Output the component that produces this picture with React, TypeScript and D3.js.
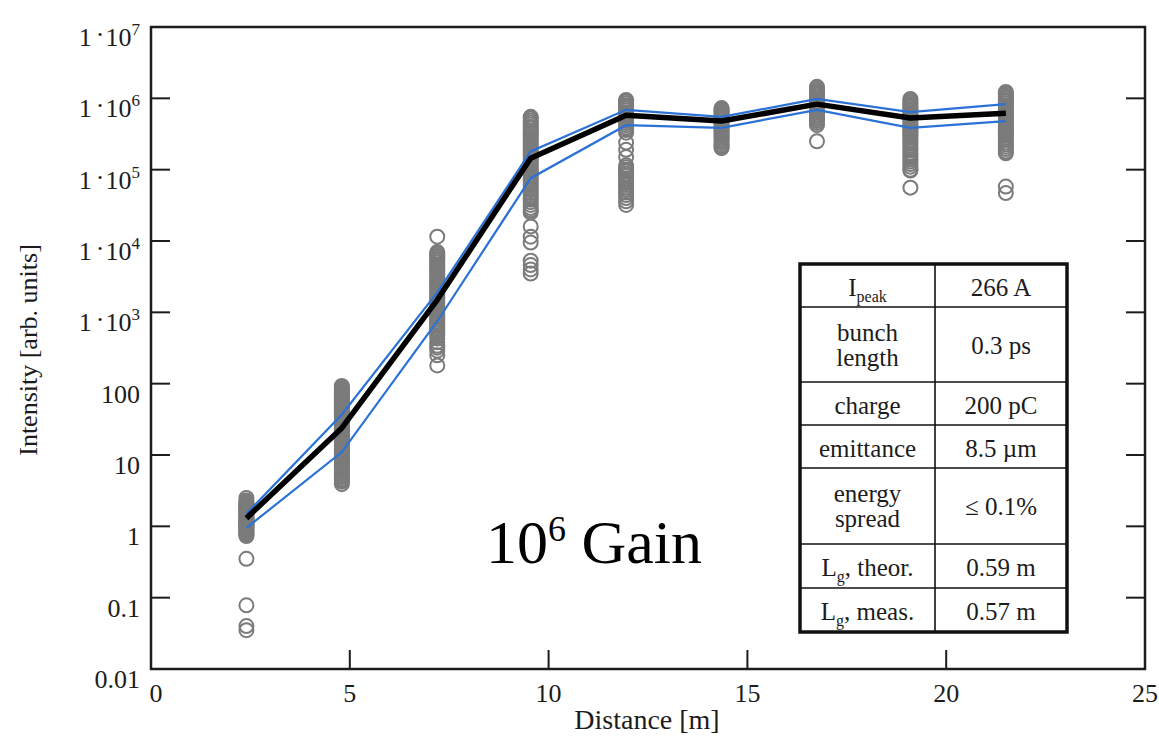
import React from "react";
import * as d3 from "d3";

// ---------- data ----------
const distances = [2.4, 4.8, 7.2, 9.55, 11.95, 14.35, 16.75, 19.1, 21.5];
const meanIntensity = [1.3, 24, 1500, 1.45e5, 5.8e5, 4.8e5, 8.3e5, 5.3e5, 6.2e5];
const upperIntensity = [1.5, 37, 1900, 1.8e5, 6.9e5, 5.5e5, 9.8e5, 6.4e5, 8.3e5];
const lowerIntensity = [0.95, 11, 750, 7.6e4, 4.2e5, 3.85e5, 6.9e5, 3.85e5, 4.8e5];

const shots1 = [2.5, 2.3, 2.2, 2.1, 2.0, 1.95, 1.9, 1.85, 1.8, 1.75, 1.7, 1.65, 1.6, 1.55, 1.5, 1.45, 1.4, 1.35, 1.3, 1.27, 1.23, 1.2, 1.16, 1.12, 1.08, 1.05, 1.02, 0.99, 0.96, 0.93, 0.9, 0.88, 0.85, 0.82, 0.8, 0.77, 0.75, 0.73, 0.35, 0.078, 0.04, 0.035];
const shots2 = [93, 90, 86, 82, 78, 75, 72, 69, 66, 63, 60, 57, 55, 52, 50, 48, 46, 44, 42, 40, 38, 36.5, 35, 33.5, 32, 30.5, 29, 28, 27, 25.5, 24.5, 23.5, 22.5, 21.5, 20.5, 19.5, 18.5, 17.5, 16.8, 16, 15.2, 14.5, 13.8, 13.2, 12.5, 12, 11.4, 10.9, 10.4, 9.9, 9.4, 9, 8.5, 8.1, 7.7, 7.3, 7, 6.6, 6.3, 6, 5.7, 5.4, 5.1, 4.9, 4.6, 4.4, 4.2, 3.9];
const shots3 = [11500, 7000, 6600, 6200, 5900, 5600, 5300, 5000, 4700, 4400, 4200, 3950, 3700, 3500, 3300, 3100, 2900, 2750, 2600, 2450, 2300, 2150, 2050, 1900, 1800, 1700, 1600, 1500, 1420, 1340, 1260, 1190, 1120, 1060, 1000, 940, 890, 840, 790, 740, 700, 660, 620, 580, 550, 510, 470, 430, 380, 340, 320, 290, 250, 180];
const shots4 = [5.5e5, 5.2e5, 4.9e5, 4.6e5, 4.3e5, 4.0e5, 3.8e5, 3.5e5, 3.3e5, 3.1e5, 2.9e5, 2.7e5, 2.5e5, 2.35e5, 2.2e5, 2.05e5, 1.9e5, 1.8e5, 1.7e5, 1.6e5, 1.5e5, 1.4e5, 1.3e5, 1.22e5, 1.15e5, 1.08e5, 1.0e5, 9.4e4, 8.8e4, 8.2e4, 7.6e4, 7.1e4, 6.6e4, 6.1e4, 5.6e4, 5.2e4, 4.8e4, 4.4e4, 4.1e4, 3.8e4, 3.5e4, 3.2e4, 2.9e4, 2.7e4, 2.5e4, 1.6e4, 1.15e4, 9.5e3, 5.3e3, 4.6e3, 4.0e3, 3.5e3];
const shots5 = [9.5e5, 9.0e5, 8.5e5, 8.0e5, 7.6e5, 7.2e5, 6.8e5, 6.4e5, 6.0e5, 5.7e5, 5.4e5, 5.1e5, 4.8e5, 4.5e5, 4.2e5, 3.9e5, 3.6e5, 3.3e5, 2.4e5, 1.9e5, 1.5e5, 1.15e5, 1.08e5, 1.0e5, 9.4e4, 8.8e4, 8.2e4, 7.6e4, 7.1e4, 6.6e4, 6.1e4, 5.6e4, 5.2e4, 4.8e4, 4.4e4, 4.0e4, 3.6e4, 3.2e4];
const shots6 = [7.3e5, 7.0e5, 6.7e5, 6.4e5, 6.1e5, 5.8e5, 5.5e5, 5.25e5, 5.0e5, 4.75e5, 4.5e5, 4.3e5, 4.1e5, 3.9e5, 3.7e5, 3.5e5, 3.3e5, 3.1e5, 2.95e5, 2.8e5, 2.65e5, 2.5e5, 2.35e5, 2.2e5, 2.1e5, 2.0e5];
const shots7 = [1.45e6, 1.38e6, 1.31e6, 1.24e6, 1.18e6, 1.12e6, 1.06e6, 1.0e6, 9.5e5, 9.0e5, 8.5e5, 8.0e5, 7.6e5, 7.2e5, 6.8e5, 6.4e5, 6.0e5, 5.7e5, 5.4e5, 5.1e5, 4.8e5, 4.5e5, 4.2e5, 2.5e5];
const shots8 = [9.8e5, 9.3e5, 8.8e5, 8.3e5, 7.9e5, 7.5e5, 7.1e5, 6.7e5, 6.3e5, 6.0e5, 5.7e5, 5.4e5, 5.1e5, 4.8e5, 4.5e5, 4.2e5, 4.0e5, 3.8e5, 3.6e5, 3.4e5, 3.2e5, 3.0e5, 2.8e5, 2.6e5, 2.45e5, 2.3e5, 2.15e5, 2.0e5, 1.85e5, 1.7e5, 1.6e5, 1.5e5, 1.4e5, 1.3e5, 1.2e5, 1.1e5, 1.0e5, 9.7e4, 5.6e4];
const shots9 = [1.23e6, 1.17e6, 1.11e6, 1.05e6, 1.0e6, 9.5e5, 9.0e5, 8.5e5, 8.0e5, 7.6e5, 7.2e5, 6.8e5, 6.4e5, 6.0e5, 5.7e5, 5.4e5, 5.1e5, 4.8e5, 4.5e5, 4.2e5, 4.0e5, 3.8e5, 3.6e5, 3.4e5, 3.2e5, 3.0e5, 2.8e5, 2.6e5, 2.4e5, 2.25e5, 2.1e5, 1.95e5, 1.8e5, 1.7e5, 5.8e4, 4.7e4];
const shotsByStation = [shots1, shots2, shots3, shots4, shots5, shots6, shots7, shots8, shots9];

const xTicks = [0, 5, 10, 15, 20, 25];
const yTickExps = [-2, -1, 0, 1, 2, 3, 4, 5, 6, 7];

const tableParams = ["I_peak", "bunch\nlength", "charge", "emittance", "energy\nspread", "L_g, theor.", "L_g, meas."];
const tableValues = ["266 A", "0.3 ps", "200 pC", "8.5 µm", "≤ 0.1%", "0.59 m", "0.57 m"];

const gainBase = "10";
const gainExp = "6";
const gainWord = "Gain";

// ---------- layout ----------
const W = 1159;
const H = 740;
const L = 151, R = 1145, T = 27, B = 669;
const FONT = "'Liberation Serif', 'Times New Roman', serif";
const INK = "#1c1c1c";

const x = d3.scaleLinear().domain([0, 25]).range([L, R]);
const y = d3.scaleLog().domain([0.01, 1e7]).range([B, T]);

function yLabel(e: number) {
  if (e >= 3) {
    return (
      <>
        <tspan>1</tspan>
        <tspan dx={4} dy={-3}>·</tspan>
        <tspan dx={1} dy={3}>10</tspan>
        <tspan fontSize={17} dy={-11}>{String(e)}</tspan>
      </>
    );
  }
  const v = Math.pow(10, e);
  const s = e < 0 ? v.toFixed(-e) : String(v);
  return <tspan>{s}</tspan>;
}

function ParamLabel({ text, cx, baseline }: { text: string; cx: number; baseline: number }) {
  const m = text.match(/^(\w)_(\w+)(.*)$/);
  if (m) {
    return (
      <text x={cx} y={baseline} textAnchor="middle" fontFamily={FONT} fontSize={25} fill={INK}>
        <tspan>{m[1]}</tspan>
        <tspan fontSize={16} dy={6}>{m[2]}</tspan>
        <tspan dy={-6}>{m[3]}</tspan>
      </text>
    );
  }
  return (
    <text x={cx} y={baseline} textAnchor="middle" fontFamily={FONT} fontSize={25} fill={INK}>
      {text}
    </text>
  );
}

export default function App() {
  const line = d3
    .line<number>()
    .x((_, i) => x(distances[i]))
    .y((d) => y(d));

  const rowEdges = [264, 307, 382, 425, 468, 544, 588, 632];
  const tL = 800, tR = 1067, tM = 935;

  return (
    <svg
      width={W}
      height={H}
      viewBox={`0 0 ${W} ${H}`}
      style={{ position: "absolute", left: 0, top: 0, background: "#fff" }}
    >
      <rect x={0} y={0} width={W} height={H} fill="#fff" />

      {/* frame */}
      <rect x={L} y={T} width={R - L} height={B - T} fill="none" stroke={INK} strokeWidth={2.5} />

      {/* y ticks left & right */}
      {yTickExps.slice(1, -1).map((e) => {
        const yy = y(Math.pow(10, e));
        return (
          <g key={"yt" + e}>
            <line x1={L} x2={L + 19} y1={yy} y2={yy} stroke={INK} strokeWidth={2} />
            <line x1={R - 19} x2={R} y1={yy} y2={yy} stroke={INK} strokeWidth={2} />
          </g>
        );
      })}
      {/* x ticks */}
      {xTicks.slice(1, -1).map((t) => (
        <line key={"xt" + t} x1={x(t)} x2={x(t)} y1={B} y2={B - 19} stroke={INK} strokeWidth={2} />
      ))}

      {/* y tick labels */}
      {yTickExps.map((e) => (
        <text
          key={"yl" + e}
          x={140}
          y={y(Math.pow(10, e)) + 19}
          textAnchor="end"
          fontFamily={FONT}
          fontSize={26}
          fill={INK}
        >
          {yLabel(e)}
        </text>
      ))}

      {/* x tick labels */}
      {xTicks.map((t) => (
        <text key={"xl" + t} x={x(t) + (t === 0 ? 5 : 0)} y={702} textAnchor="middle" fontFamily={FONT} fontSize={26} fill={INK}>
          {t}
        </text>
      ))}

      {/* axis titles */}
      <text x={647} y={729} textAnchor="middle" fontFamily={FONT} fontSize={28} fill={INK}>
        Distance [m]
      </text>
      <text
        transform="translate(37,350) rotate(-90)"
        textAnchor="middle"
        fontFamily={FONT}
        fontSize={26}
        fill={INK}
      >
        Intensity [arb. units]
      </text>

      {/* measured shots */}
      {shotsByStation.map((shots, i) =>
        shots.map((v, j) => (
          <circle
            key={`c${i}-${j}`}
            cx={x(distances[i])}
            cy={y(v)}
            r={7}
            fill="none"
            stroke="#7b7b7b"
            strokeWidth={2}
          />
        ))
      )}

      {/* envelopes and mean */}
      <path d={line(upperIntensity) || ""} fill="none" stroke="#2a72d6" strokeWidth={2.2} />
      <path d={line(lowerIntensity) || ""} fill="none" stroke="#2a72d6" strokeWidth={2.2} />
      <path d={line(meanIntensity) || ""} fill="none" stroke="#000" strokeWidth={5.5} strokeLinejoin="round" />

      {/* gain label */}
      <text x={486} y={563} fontFamily={FONT} fontSize={62} fill="#000">
        <tspan>{gainBase}</tspan>
        <tspan fontSize={36} dy={-22}>{gainExp}</tspan>
        <tspan dy={22}>{" " + gainWord}</tspan>
      </text>

      {/* parameter table */}
      <rect x={tL} y={rowEdges[0]} width={tR - tL} height={rowEdges[rowEdges.length - 1] - rowEdges[0]} fill="#fff" stroke="#111" strokeWidth={3.5} />
      <line x1={tM} x2={tM} y1={rowEdges[0]} y2={rowEdges[rowEdges.length - 1]} stroke="#111" strokeWidth={1.6} />
      {rowEdges.slice(1, -1).map((ry) => (
        <line key={"re" + ry} x1={tL} x2={tR} y1={ry} y2={ry} stroke="#111" strokeWidth={1.6} />
      ))}
      {tableParams.map((p, i) => {
        const c = (rowEdges[i] + rowEdges[i + 1]) / 2;
        const lines = p.split("\n");
        const c1 = (tL + tM) / 2;
        const c2 = (tM + tR) / 2;
        return (
          <g key={"row" + i}>
            {lines.length === 1 ? (
              <ParamLabel text={p} cx={c1} baseline={c + 10} />
            ) : (
              lines.map((ln, k) => (
                <ParamLabel key={k} text={ln} cx={c1} baseline={c - 4 + k * 25} />
              ))
            )}
            <text x={c2} y={c + (lines.length === 1 ? 10 : 9)} textAnchor="middle" fontFamily={FONT} fontSize={25} fill={INK}>
              {tableValues[i]}
            </text>
          </g>
        );
      })}
    </svg>
  );
}
